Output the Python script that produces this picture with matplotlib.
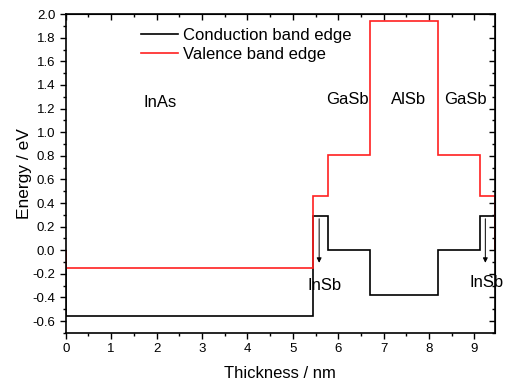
import matplotlib
matplotlib.use("Agg")
import matplotlib.pyplot as plt
from matplotlib.ticker import MultipleLocator

# layer boundaries (nm) and band edges (eV)
bounds = [0, 5.45, 5.78, 6.7, 8.2, 9.12, 9.45]
layers = ["InAs", "InSb", "GaSb", "AlSb", "GaSb", "InSb"]
cb = [-0.56, 0.29, 0.0, -0.38, 0.0, 0.29]
vb = [-0.15, 0.46, 0.81, 1.94, 0.81, 0.46]

label_x = [2.07, 6.2, 7.55, 8.8]
label_y = [1.25, 1.28, 1.28, 1.28]
label_txt = ["InAs", "GaSb", "AlSb", "GaSb"]

plt.rcParams["font.family"] = ["Liberation Sans", "DejaVu Sans"]

fig = plt.figure(figsize=(5.06, 3.83), dpi=100)
ax = fig.add_axes([0.130, 0.131, 0.848, 0.832])

ax.stairs(cb, bounds, color="black", lw=1.2, label="Conduction band edge")
ax.stairs(vb, bounds, color="#ff2020", lw=1.2, label="Valence band edge")

for x, y, t in zip(label_x, label_y, label_txt):
    ax.text(x, y, t, ha="center", va="center", fontsize=12)

# InSb arrows
for xa, xt, yt in [(5.58, 5.7, -0.3), (9.24, 9.27, -0.27)]:
    ax.annotate("", xy=(xa, -0.13), xytext=(xa, 0.29),
                arrowprops=dict(arrowstyle="-|>", color="black", lw=0.7,
                                mutation_scale=7))
    ax.text(xt, yt, "InSb", ha="center", va="center", fontsize=12)

ax.set_xlim(0, 9.45)
ax.set_ylim(-0.7, 2.0)
ax.xaxis.set_major_locator(MultipleLocator(1))
ax.xaxis.set_minor_locator(MultipleLocator(0.5))
ax.yaxis.set_major_locator(MultipleLocator(0.2))
ax.yaxis.set_minor_locator(MultipleLocator(0.1))
ax.yaxis.set_major_formatter(plt.FuncFormatter(lambda v, p: f"{v:.1f}".replace("-0.0", "0.0")))
ax.tick_params(axis="both", which="both", direction="out", labelsize=9.5)
ax.tick_params(which="major", length=4, width=1)
ax.tick_params(which="minor", length=2.5, width=1)
for s in ax.spines.values():
    s.set_linewidth(1.2)

# mirrored inward ticks on top and right
top = ax.secondary_xaxis("top")
top.xaxis.set_major_locator(MultipleLocator(1))
top.xaxis.set_minor_locator(MultipleLocator(0.5))
top.tick_params(which="both", direction="in", labeltop=False)
top.tick_params(which="major", length=4, width=1)
top.tick_params(which="minor", length=2.5, width=1)
right = ax.secondary_yaxis("right")
right.yaxis.set_major_locator(MultipleLocator(0.2))
right.yaxis.set_minor_locator(MultipleLocator(0.1))
right.tick_params(which="both", direction="in", labelright=False)
right.tick_params(which="major", length=4, width=1)
right.tick_params(which="minor", length=2.5, width=1)

ax.set_xlabel("Thickness / nm", fontsize=12, labelpad=8)
ax.set_ylabel("Energy / eV", fontsize=12.5, labelpad=0)
ax.legend(loc="upper left", bbox_to_anchor=(0.175, 0.957), frameon=False,
          fontsize=12, handlelength=2.2, labelspacing=0.25, borderpad=0,
          borderaxespad=0, handletextpad=0.3)

fig.savefig("out.png", dpi=100)
